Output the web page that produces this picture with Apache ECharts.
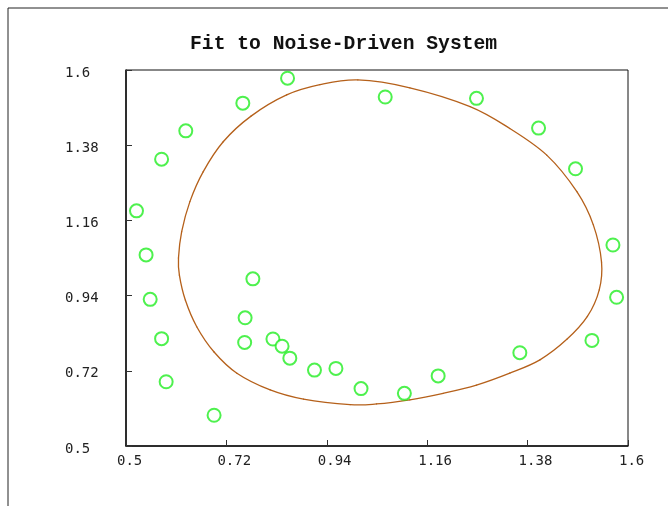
<!DOCTYPE html>
<html>
<head>
<meta charset="utf-8">
<script src="https://cdn.jsdelivr.net/npm/echarts@6/dist/echarts.min.js"></script>
<style>
html,body{margin:0;padding:0;background:#fff;}
#c{width:668px;height:506px;}
</style>
</head>
<body>
<div id="c"></div>
<script>
// Observed (noisy) points
const obsX = [0.854,0.756,0.631,0.578,0.523,0.544,0.553,0.578,0.588,0.693,0.778,0.761,0.760,0.822,0.842,0.859,0.913,0.960,1.015,1.110,1.184,1.363,1.521,1.575,1.567,1.485,1.404,1.268,1.068];
const obsY = [1.576,1.503,1.422,1.339,1.188,1.059,0.929,0.814,0.688,0.590,0.989,0.875,0.803,0.813,0.792,0.757,0.722,0.727,0.668,0.654,0.705,0.773,0.809,0.935,1.088,1.311,1.430,1.517,1.521];
// Fitted closed orbit (closed curve, traced clockwise from the leftmost point)
const fitX = [0.615,0.622,0.640,0.669,0.713,0.774,0.852,0.925,1.008,1.122,1.254,1.341,1.422,1.488,1.524,1.542,1.537,1.511,1.466,1.407,1.341,1.268,1.195,1.122,1.049,0.991,0.889,0.816,0.743,0.693,0.655,0.630,0.617];
const fitY = [1.050,1.127,1.215,1.302,1.390,1.465,1.527,1.557,1.571,1.548,1.493,1.429,1.351,1.244,1.147,1.038,0.957,0.879,0.812,0.752,0.713,0.678,0.654,0.635,0.623,0.621,0.637,0.664,0.713,0.775,0.849,0.927,1.000];
// Tick labels
const xTicks = [0.5,0.72,0.94,1.16,1.38,1.6];
const yTicks = [0.5,0.72,0.94,1.16,1.38,1.6];
const titleText = 'Fit to Noise-Driven System';

const obsData = obsX.map((x,i)=>[x,obsY[i]]);
const fitData = fitX.map((x,i)=>[x,fitY[i]]);

const labelFont = 'DejaVu Sans Mono';
const curveStyle = {fill:'none', stroke:'#b5601a', lineWidth:1.3, lineCap:'round', lineJoin:'round'};

function renderOrbit(params, api){
  if (params.dataIndex !== 0) return null;
  const p = fitX.map((x,i)=>api.coord([x, fitY[i]]));
  const n = p.length;
  const children = [];
  for (let i = 0; i < n; i++) {
    const p0 = p[(i - 1 + n) % n], p1 = p[i], p2 = p[(i + 1) % n], p3 = p[(i + 2) % n];
    children.push({
      type:'bezierCurve',
      shape:{
        x1:p1[0], y1:p1[1], x2:p2[0], y2:p2[1],
        cpx1:p1[0] + (p2[0]-p0[0])/6, cpy1:p1[1] + (p2[1]-p0[1])/6,
        cpx2:p2[0] - (p3[0]-p1[0])/6, cpy2:p2[1] - (p3[1]-p1[1])/6
      },
      style:curveStyle
    });
  }
  return {type:'group', children};
}

const chart = echarts.init(document.getElementById('c'), null, {renderer:'canvas'});
chart.setOption({
  animation:false,
  backgroundColor:'#fff',
  title:{
    text:titleText,
    left:185, top:29,
    textStyle:{fontFamily:'Liberation Mono', fontSize:19.7, fontWeight:'bold', color:'#111'}
  },
  graphic:[
    {type:'line', shape:{x1:8,y1:8,x2:668,y2:8}, style:{stroke:'#222',lineWidth:1}},
    {type:'line', shape:{x1:8,y1:8,x2:8,y2:506}, style:{stroke:'#222',lineWidth:1}}
  ],
  grid:{left:126,right:40,top:70,bottom:60,show:true,borderColor:'#111',borderWidth:1,backgroundColor:'transparent'},
  xAxis:{
    type:'value', min:0.5, max:1.6,
    axisLine:{show:true,lineStyle:{color:'#111',width:1.5}},
    axisTick:{show:true,inside:true,length:6,lineStyle:{color:'#333'},customValues:xTicks},
    axisLabel:{
      customValues:xTicks, margin:8,
      fontFamily:labelFont, fontSize:14, color:'#222',
      formatter:v=>'{a|'+v+'}',
      rich:{a:{width:18,align:'left',fontFamily:labelFont,fontSize:14,color:'#222'}}
    },
    splitLine:{show:false}
  },
  yAxis:{
    type:'value', min:0.5, max:1.6,
    axisLine:{show:true,lineStyle:{color:'#111',width:1.5}},
    axisTick:{show:true,inside:true,length:6,lineStyle:{color:'#333'},customValues:yTicks},
    axisLabel:{customValues:yTicks, margin:61, align:'left', fontFamily:labelFont, fontSize:14, color:'#222',
      formatter:v=>'{a|'+v+'}',
      rich:{a:{padding:[6,0,0,0],fontFamily:labelFont,fontSize:14,color:'#222'}}
    },
    splitLine:{show:false}
  },
  series:[
    {type:'custom', data:fitData, silent:true, z:2, renderItem:renderOrbit},
    {type:'scatter', data:obsData, symbol:'emptyCircle', symbolSize:13, z:3,
      itemStyle:{color:'#22ee22',borderColor:'#22ee22',borderWidth:1.5}}
  ]
});
</script>
</body>
</html>
